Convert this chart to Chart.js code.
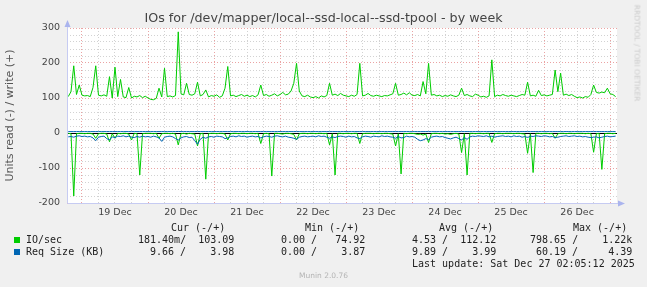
<!DOCTYPE html>
<html>
<head>
<meta charset="utf-8">
<script src="https://cdn.jsdelivr.net/npm/chart.js@4.4.1/dist/chart.umd.min.js"></script>
<style>
html,body{margin:0;padding:0;background:#f0f0f0;}
#wrap{position:relative;width:647px;height:287px;overflow:hidden;background:#f0f0f0;}
#c{position:absolute;left:0;top:0;}
.m{position:absolute;white-space:pre;font-family:"DejaVu Sans Mono",monospace;font-size:10px;line-height:12px;color:#222;}
.sq{position:absolute;width:6px;height:6px;}
#title{position:absolute;left:0;width:647px;top:10px;text-align:center;font-family:"DejaVu Sans",sans-serif;font-size:12.7px;line-height:16px;color:#444;white-space:pre;}
#munin{position:absolute;left:0;width:647px;top:271px;text-align:center;font-family:"DejaVu Sans",sans-serif;font-size:7.5px;line-height:10px;color:#b4b4b4;}
#rrd{position:absolute;left:637px;top:53px;transform:translate(-50%,-50%) rotate(90deg);font-family:"DejaVu Sans",sans-serif;font-size:7.5px;line-height:9px;color:#cccccc;white-space:pre;}
</style>
</head>
<body>
<div id="wrap">
<canvas id="c" width="647" height="287"></canvas>
<div id="title">IOs for /dev/mapper/local--ssd-local--ssd-tpool - by week</div>
<div id="rrd">RRDTOOL / TOBI OETIKER</div>
<div class="m" style="left:171px;top:222px">Cur (-/+)</div>
<div class="m" style="left:305px;top:222px">Min (-/+)</div>
<div class="m" style="left:439px;top:222px">Avg (-/+)</div>
<div class="m" style="left:573px;top:222px">Max (-/+)</div>
<div class="sq" style="left:14px;top:237px;background:#00cc00"></div>
<div class="m" style="left:26px;top:234px">IO/sec</div>
<div class="m" style="left:138px;top:234px">181.40m/  103.09</div>
<div class="m" style="left:281px;top:234px">0.00 /   74.92</div>
<div class="m" style="left:412px;top:234px">4.53 /  112.12</div>
<div class="m" style="left:530px;top:234px">798.65 /    1.22k</div>
<div class="sq" style="left:14px;top:249px;background:#0066b3"></div>
<div class="m" style="left:26px;top:246px">Req Size (KB)</div>
<div class="m" style="left:150px;top:246px">9.66 /    3.98</div>
<div class="m" style="left:281px;top:246px">0.00 /    3.87</div>
<div class="m" style="left:412px;top:246px">9.89 /    3.99</div>
<div class="m" style="left:536px;top:246px">60.19 /     4.39</div>
<div class="m" style="left:412px;top:258px">Last update: Sat Dec 27 02:05:12 2025</div>
<div id="munin">Munin 2.0.76</div>
</div>
<script>
// ---- time axis (hours relative to 19 Dec 00:00), hourly samples ----
const FIRST_HOUR = -5;
const STEP_HOURS = 1;
const X_MIN = -5.45;
const X_MAX = 194.5;
const DAY_LABELS = ['19 Dec','20 Dec','21 Dec','22 Dec','23 Dec','24 Dec','25 Dec','26 Dec'];
const Y_MIN = -200, Y_MAX = 300, Y_STEP = 20, Y_LABEL_STEP = 100;

// IO/sec, write (+)
const IO_WRITE = [
104,118,192,110,137,108,106,107,104,130,
192,108,106,109,105,161,100,188,104,153,
103,101,130,100,105,103,107,101,105,100,
96,95,99,128,103,185,104,106,103,107,
289,112,109,142,110,108,112,145,106,110,
123,103,107,105,109,102,106,128,190,106,
108,104,107,110,105,108,104,107,103,109,
137,107,110,105,108,112,106,110,116,109,
111,120,142,199,120,106,104,108,103,101,
104,100,106,103,107,142,108,111,107,113,
108,106,104,108,105,110,199,106,108,113,
107,105,108,106,104,107,106,109,112,142,
108,110,114,109,115,108,107,110,106,147,
112,199,108,110,106,108,104,107,105,109,
106,104,108,128,107,110,106,104,111,108,
103,105,102,106,209,104,108,106,110,107,
105,108,106,104,107,110,108,145,106,108,
105,122,107,109,106,108,110,180,118,171,
108,111,107,110,105,101,103,100,104,102,
110,137,116,114,117,115,128,112,110,104
];
// IO/sec, read (-)
const IO_READ = [
-1,-2,-180,-2,-1,-1,-2,-1,-1,-3,
-15,-2,-1,-1,-3,-25,-2,-15,-1,-2,
-1,-1,-3,-20,-1,-2,-120,-2,-1,-1,
-1,-2,-1,-15,-2,-1,-1,-2,-1,-3,
-34,-2,-1,-3,-1,-2,-3,-37,-2,-1,
-132,-2,-1,-1,-2,-1,-1,-3,-20,-2,
-1,-1,-2,-1,-1,-2,-1,-1,-2,-1,
-30,-2,-1,-2,-123,-1,-1,-2,-3,-1,
-1,-2,-4,-20,-2,-1,-1,-2,-1,-1,
-2,-1,-1,-2,-1,-34,-2,-120,-1,-1,
-2,-1,-1,-2,-1,-1,-30,-2,-1,-1,
-1,-2,-1,-1,-2,-1,-1,-2,-3,-37,
-2,-117,-1,-2,-1,-1,-2,-4,-3,-6,
-3,-27,-2,-1,-1,-2,-1,-3,-2,-4,
-2,-1,-3,-56,-2,-120,-1,-1,-2,-1,
-1,-2,-1,-1,-27,-2,-1,-1,-2,-1,
-1,-1,-2,-1,-1,-2,-3,-58,-2,-113,
-1,-1,-2,-1,-1,-2,-1,-15,-2,-1,
-1,-2,-1,-1,-2,-1,-1,-1,-2,-1,
-2,-55,-2,-1,-104,-2,-1,-1,-2,-1
];
// Req Size (KB), write (+)
const REQ_WRITE = [
4.00,3.98,4.01,3.99,4.02,3.97,4.00,3.99,4.03,3.98,4.00,4.01,3.98,3.99,4.00,4.02,3.98,3.97,4.01,3.99,
3.98,4.00,3.99,4.01,3.98,3.97,4.00,4.02,3.99,3.98,4.01,3.99,4.00,3.98,4.02,3.99,3.97,4.00,3.99,4.01,
4.39,3.99,4.00,3.98,4.01,3.99,3.98,4.02,4.00,3.97,3.99,4.01,3.98,4.00,3.99,4.02,3.98,3.99,4.01,4.00,
3.98,3.99,4.00,4.01,3.97,3.99,4.00,3.98,4.02,3.99,4.00,3.98,4.01,3.99,3.97,4.00,3.99,4.02,3.98,4.00,
3.99,4.01,3.98,4.03,3.99,4.00,3.98,3.97,4.01,3.99,4.00,3.98,4.01,3.99,4.00,3.98,4.02,3.99,3.98,4.00,
4.01,3.99,3.98,4.00,3.97,3.99,4.02,4.00,3.98,3.99,4.01,4.00,3.98,3.99,4.00,4.02,3.98,3.99,4.01,3.98,
4.00,3.99,4.01,3.98,4.00,3.87,3.99,4.01,3.98,4.00,4.02,3.99,3.98,4.00,3.99,4.01,3.98,3.99,4.00,3.97,
3.99,4.00,3.98,4.01,3.99,4.02,3.98,4.00,3.99,3.98,4.01,3.99,4.00,3.98,3.99,4.01,4.00,3.97,3.99,4.00,
3.98,4.01,3.99,4.00,3.98,3.99,4.02,4.00,3.98,3.99,4.00,4.01,3.98,3.99,4.00,3.98,4.01,3.99,4.00,3.98,
3.99,4.02,4.00,3.98,3.99,4.01,4.00,3.98,3.99,4.00,3.98,4.01,3.99,4.00,3.98,3.99,4.01,4.00,3.99,3.98
];
// Req Size (KB), read (-)
const REQ_READ = [
-11,-10,-12,-9,-8,-10,-9,-11,-10,-14,
-22,-12,-10,-9,-16,-20,-11,-13,-9,-10,
-8,-11,-9,-12,-13,-10,-12,-9,-11,-10,
-12,-9,-11,-14,-24,-12,-10,-9,-11,-16,
-20,-14,-11,-10,-13,-12,-22,-32,-18,-12,
-15,-11,-10,-12,-9,-10,-11,-16,-14,-10,
-9,-11,-8,-10,-9,-12,-10,-9,-11,-10,
-14,-11,-9,-10,-12,-9,-8,-10,-11,-9,
-12,-13,-15,-18,-12,-10,-9,-11,-10,-9,
-11,-8,-10,-9,-12,-15,-11,-13,-10,-9,
-10,-12,-9,-11,-10,-14,-16,-11,-9,-10,
-12,-9,-10,-11,-8,-10,-9,-11,-12,-15,
-10,-14,-13,-9,-11,-10,-12,-18,-22,-20,
-16,-19,-12,-10,-9,-11,-10,-13,-15,-17,
-14,-12,-16,-20,-13,-18,-11,-9,-10,-8,
-9,-10,-8,-11,-9,-12,-10,-9,-8,-10,
-9,-11,-8,-10,-9,-12,-10,-13,-9,-10,
-8,-9,-10,-8,-9,-11,-10,-13,-12,-10,
-9,-8,-10,-9,-8,-10,-9,-11,-10,-12,
-13,-12,-11,-14,-12,-10,-9,-11,-10,-9
];

const GREEN = '#00cc00', BLUE = '#0066b3';
const MAJOR = '#eba3a3', MINOR = '#d2d2d2';
const AXIS = '#c6cbf2', ARROW = '#aab4ee';

const HOURS = IO_WRITE.map((_, i) => FIRST_HOUR + i * STEP_HOURS);
const pts = arr => arr.map((v, i) => ({x: HOURS[i], y: v}));

const X_TICKS = [];
for (let h = 0; h <= X_MAX; h += 6) X_TICKS.push(h);
const Y_TICKS = [];
for (let v = Y_MIN; v <= Y_MAX; v += Y_STEP) Y_TICKS.push(v);

const frame = {
  id: 'frame',
  beforeDraw(chart) {
    const {ctx, chartArea: a} = chart;
    ctx.save();
    ctx.fillStyle = '#ffffff';
    ctx.fillRect(a.left, a.top, a.right - a.left, a.bottom - a.top);
    ctx.restore();
  },
  afterDraw(chart) {
    const {ctx, chartArea: a} = chart;
    const L = Math.round(a.left) + 0.5, B = Math.round(a.bottom) + 0.5;
    ctx.save();
    ctx.strokeStyle = AXIS; ctx.lineWidth = 1;
    ctx.beginPath(); ctx.moveTo(L, B); ctx.lineTo(L, a.top - 4); ctx.stroke();
    ctx.beginPath(); ctx.moveTo(L, B); ctx.lineTo(a.right + 3, B); ctx.stroke();
    ctx.fillStyle = ARROW;
    ctx.beginPath(); ctx.moveTo(L, a.top - 8); ctx.lineTo(L - 3, a.top - 1); ctx.lineTo(L + 3, a.top - 1); ctx.closePath(); ctx.fill();
    ctx.beginPath(); ctx.moveTo(a.right + 8, B); ctx.lineTo(a.right + 1, B - 3); ctx.lineTo(a.right + 1, B + 3); ctx.closePath(); ctx.fill();
    ctx.restore();
  }
};

const tickFont = {family: 'DejaVu Sans', size: 9.5};

new Chart(document.getElementById('c'), {
  type: 'line',
  data: {
    datasets: [
      {label: 'Req Size (KB) write', data: pts(REQ_WRITE), borderColor: BLUE, borderWidth: 1, order: 0},
      {label: 'Req Size (KB) read', data: pts(REQ_READ), borderColor: BLUE, borderWidth: 1, order: 0},
      {label: 'IO/sec write', data: pts(IO_WRITE), borderColor: GREEN, borderWidth: 1, order: 1},
      {label: 'IO/sec read', data: pts(IO_READ), borderColor: GREEN, borderWidth: 1, order: 1}
    ]
  },
  options: {
    responsive: false,
    animation: false,
    events: [],
    layout: {padding: {left: 0, top: 28, right: 30, bottom: 0}},
    elements: {point: {radius: 0}, line: {tension: 0, fill: false}},
    plugins: {legend: {display: false}, tooltip: {enabled: false}, title: {display: false}},
    scales: {
      x: {
        type: 'linear', min: X_MIN, max: X_MAX,
        afterBuildTicks: s => { s.ticks = X_TICKS.map(v => ({value: v})); },
        afterFit: s => { s.height = 84; },
        ticks: {
          autoSkip: false, maxRotation: 0, padding: 4, color: '#444', font: tickFont,
          callback: v => (v % 24 === 12 ? DAY_LABELS[(v - 12) / 24] : '')
        },
        grid: {drawTicks: false, lineWidth: 1, color: c => (c.tick && c.tick.value % 24 === 0 ? MAJOR : MINOR)},
        border: {display: false, dash: [1, 2]}
      },
      y: {
        type: 'linear', min: Y_MIN, max: Y_MAX,
        afterBuildTicks: s => { s.ticks = Y_TICKS.map(v => ({value: v})); },
        afterFit: s => { s.width = 67; },
        ticks: {
          autoSkip: false, padding: 7, color: '#444', font: tickFont,
          callback: v => (v % Y_LABEL_STEP === 0 ? String(v) : '')
        },
        title: {display: true, text: 'Units read (-) / write (+)', color: '#555', font: {family: 'DejaVu Sans', size: 11}, padding: {top: 4, bottom: 0}},
        grid: {
          drawTicks: false, lineWidth: 1,
          color: c => (c.tick && c.tick.value === 0 ? '#000000' : (c.tick && c.tick.value % Y_LABEL_STEP === 0 ? MAJOR : MINOR))
        },
        border: {display: false, dash: c => (c.tick && c.tick.value === 0 ? [] : [1, 2])}
      }
    }
  },
  plugins: [frame]
});
</script>
</body>
</html>
